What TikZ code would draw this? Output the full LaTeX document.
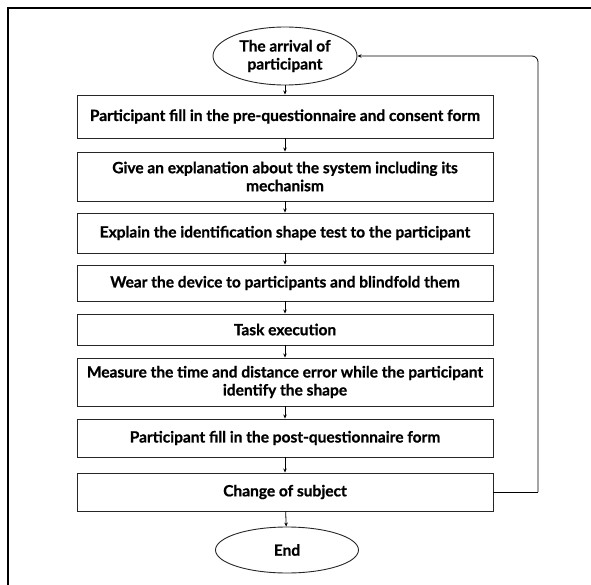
\documentclass[tikz,border=0pt]{standalone}
\usepackage{fontspec}
\setmainfont{Lato}[BoldFeatures={FakeBold=0.8}]
\usetikzlibrary{shapes.geometric,arrows.meta}
\begin{document}
\begin{tikzpicture}[x=1pt,y=-1pt,
	>={Stealth[length=4pt,width=3.5pt]},
	stepbox/.style={draw=black!85,line width=0.9pt,minimum width=416pt,inner sep=2pt,align=center,font=\bfseries\fontsize{15.5}{18}\selectfont},
	termbox/.style={ellipse,draw=black!85,line width=0.9pt,inner sep=0pt,align=center,font=\bfseries\fontsize{15.5}{18}\selectfont},
	flow/.style={->,line width=0.8pt}]
	\useasboundingbox (0,0) rectangle (591,585);
	\draw [line width=2.8pt] (591,8) -- (8,8) -- (8,585);
	\node[termbox,minimum width=144pt,minimum height=58pt] (arrival) at (285,56) {The arrival of\\participant};
	\node[stepbox,minimum height=43pt] (prequest) at (285,116.5) {Participant fill in the pre-questionnaire and consent form};
	\node[stepbox,minimum height=49pt] (explain) at (285,176.5) {Give an explanation about the system including its\\mechanism};
	\node[stepbox,minimum height=40pt] (shapetest) at (285,233) {Explain the identification shape test to the participant};
	\node[stepbox,minimum height=36pt] (wear) at (285,283) {Wear the device to participants and blindfold them};
	\node[stepbox,minimum height=31pt] (task) at (285,329.5) {Task execution};
	\node[stepbox,minimum height=48pt] (measure) at (285,382) {Measure the time and distance error while the participant\\identify the shape};
	\node[stepbox,minimum height=38pt] (postquest) at (285,438) {Participant fill in the post-questionnaire form};
	\node[stepbox,minimum height=38pt] (change) at (285,492) {Change of subject};
	\node[termbox,minimum width=143pt,minimum height=46pt] (finish) at (287,550) {End};
	\draw [flow] (arrival) -- (prequest);
	\draw [flow] (prequest) -- (explain);
	\draw [flow] (explain) -- (shapetest);
	\draw [flow] (shapetest) -- (wear);
	\draw [flow] (wear) -- (task);
	\draw [flow] (task) -- (measure);
	\draw [flow] (measure) -- (postquest);
	\draw [flow] (postquest) -- (change);
	\draw [flow] (change) -- (finish);
	\coordinate (loop) at (538,492);
	\draw [line width=0.8pt] (change.east) -- (loop);
	\draw [flow,rounded corners=6pt] (loop) |- (arrival.east);
\end{tikzpicture}
\end{document}
